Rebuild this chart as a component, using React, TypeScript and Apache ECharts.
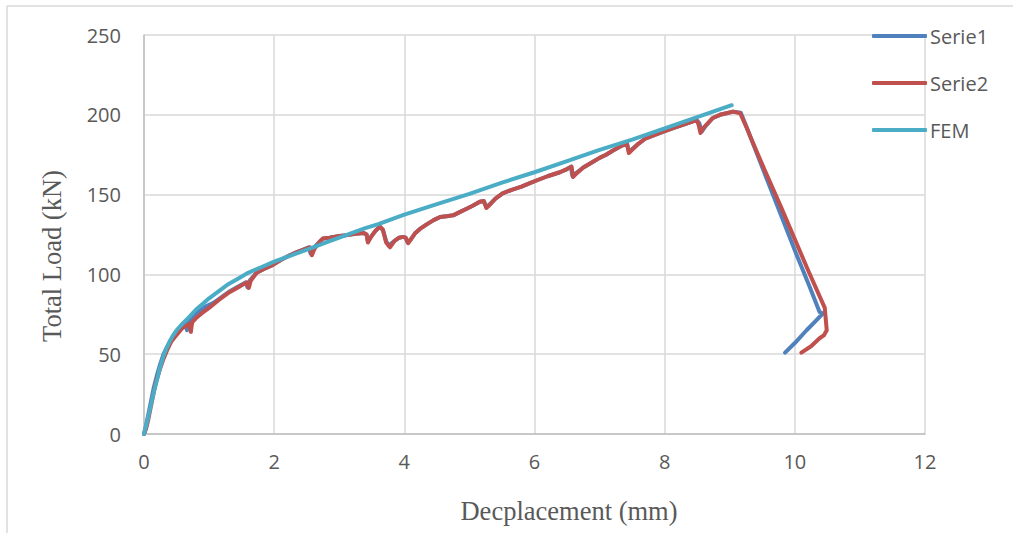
import React, { useEffect, useRef } from "react";
import * as echarts from "echarts";

const xTicks = [0, 2, 4, 6, 8, 10, 12];
const yTicks = [0, 50, 100, 150, 200, 250];

const serie1X = [0, 0.03, 0.06, 0.1, 0.15, 0.2, 0.25, 0.3, 0.36, 0.43, 0.5, 0.58, 0.64, 0.66, 0.69, 0.75, 0.85, 0.95, 1.06, 1.15, 1.25, 1.32, 1.45, 1.56, 1.59, 1.63, 1.73, 1.85, 1.98, 2.1, 2.24, 2.35, 2.45, 2.53, 2.56, 2.6, 2.7, 2.75, 2.85, 3.0, 3.12, 3.25, 3.37, 3.42, 3.44, 3.48, 3.55, 3.62, 3.67, 3.72, 3.76, 3.85, 3.92, 3.98, 4.02, 4.05, 4.1, 4.17, 4.24, 4.35, 4.45, 4.55, 4.65, 4.75, 4.85, 4.95, 5.05, 5.16, 5.22, 5.26, 5.3, 5.4, 5.51, 5.65, 5.8, 5.92, 6.04, 6.2, 6.39, 6.5, 6.56, 6.58, 6.64, 6.75, 6.9, 7.0, 7.1, 7.2, 7.31, 7.42, 7.45, 7.5, 7.6, 7.7, 7.82, 7.95, 8.13, 8.3, 8.49, 8.53, 8.57, 8.62, 8.74, 8.85, 8.95, 9.05, 9.17, 9.3, 9.51, 9.74, 10.03, 10.22, 10.38, 10.43, 10.3, 10.18, 10.0, 9.85];
const serie1Y = [0, 5, 11, 19, 29, 37, 44, 50, 55, 60, 64, 67.5, 69.5, 65, 70, 74, 77, 80, 82, 84.5, 87.5, 89.5, 92.5, 95, 92, 96.5, 101, 103.5, 106, 109, 112, 114, 115.5, 117, 113, 116.5, 120.5, 122.5, 123, 124, 124.6, 125.5, 126, 125, 120.5, 123, 127, 130, 128, 121, 118, 121, 123, 123.5, 123, 120, 122, 126, 128.5, 131.5, 134, 136, 136.5, 137, 139, 141, 143, 145.5, 146, 142.5, 143.5, 147.5, 150.8, 153, 155, 157, 159, 161.5, 164, 166, 167.5, 162, 163.5, 167, 170.6, 173, 175, 177.5, 180, 182, 177, 178.5, 182, 185, 187, 189, 191.6, 194, 196.7, 195, 189.5, 192.5, 198, 200, 201, 202, 201.3, 188, 166, 142, 112, 93, 76.5, 75.5, 70, 65, 57, 51];

const serie2X = [0, 0.03, 0.06, 0.09, 0.13, 0.18, 0.24, 0.29, 0.35, 0.42, 0.5, 0.58, 0.66, 0.7, 0.72, 0.74, 0.81, 0.9, 1.0, 1.06, 1.15, 1.25, 1.32, 1.45, 1.58, 1.61, 1.64, 1.73, 1.85, 1.98, 2.1, 2.24, 2.35, 2.45, 2.55, 2.58, 2.62, 2.7, 2.75, 2.85, 3.0, 3.12, 3.25, 3.37, 3.42, 3.44, 3.48, 3.55, 3.62, 3.67, 3.72, 3.78, 3.85, 3.92, 3.98, 4.02, 4.06, 4.1, 4.17, 4.24, 4.35, 4.45, 4.55, 4.65, 4.75, 4.85, 4.95, 5.05, 5.16, 5.22, 5.26, 5.3, 5.4, 5.51, 5.65, 5.8, 5.92, 6.04, 6.2, 6.39, 6.5, 6.57, 6.59, 6.64, 6.75, 6.9, 7.0, 7.1, 7.2, 7.31, 7.42, 7.45, 7.5, 7.6, 7.7, 7.82, 7.95, 8.13, 8.3, 8.49, 8.52, 8.55, 8.6, 8.74, 8.85, 8.95, 9.05, 9.16, 9.26, 9.32, 9.54, 9.79, 10.01, 10.21, 10.46, 10.49, 10.45, 10.38, 10.25, 10.1];
const serie2Y = [0, 3, 8, 14, 22, 32, 40, 46, 52, 58, 62, 66, 68, 69, 64, 70, 73, 76, 79, 81, 84, 87, 89, 92, 95, 91.5, 96, 101, 103.5, 106, 109, 112, 114, 115.5, 117, 112, 116, 120.5, 122.5, 123, 124, 124.6, 125.5, 126, 125, 120, 123, 127, 130, 128, 120, 117, 121, 123, 123.5, 123, 119.5, 122, 126, 128.5, 131.5, 134, 136, 136.5, 137, 139, 141, 143, 145.5, 146, 141.6, 143, 147.5, 150.8, 153, 155, 157, 159, 161.5, 164, 166, 167.5, 161, 163, 167, 170.6, 173, 175, 177.5, 180, 182, 176, 178, 182, 185, 187, 189, 191.6, 194, 196.7, 194, 188.6, 192, 198, 200, 201, 202, 201, 192, 186, 165, 142, 121, 102, 79, 65, 62, 60, 55, 51];

const femX = [0, 0.05, 0.1, 0.15, 0.2, 0.25, 0.3, 0.35, 0.4, 0.45, 0.5, 0.6, 0.7, 0.8, 0.9, 1.0, 1.15, 1.3, 1.45, 1.6, 1.8, 2.0, 2.2, 2.4, 2.6, 2.8, 3.0, 3.2, 3.4, 3.6, 3.8, 4.0, 4.5, 5.0, 5.5, 6.0, 6.5, 7.0, 7.5, 8.0, 8.5, 9.03];
const femY = [0, 8, 17, 26, 34, 42, 49, 54, 58.5, 62, 65, 69.5, 73.5, 78, 81.5, 85, 89.5, 94, 97.5, 101, 104.5, 108, 111, 114, 117, 120, 123, 126, 129, 131.5, 134.5, 137.5, 144, 150.5, 157.5, 164, 171, 178, 184.5, 191.5, 198.5, 206];

const pairs = (xs: number[], ys: number[]) => xs.map((x, i) => [x, ys[i]]);

export default function App() {
  const ref = useRef<HTMLDivElement>(null);
  useEffect(() => {
    if (!ref.current) return;
    const chart = echarts.init(ref.current, undefined, { renderer: "svg" });
    const tickFont = {
      fontFamily: "'Open Sans', sans-serif",
      fontSize: 20,
      color: "#595959",
    };
    const lineCommon = {
      type: "line" as const,
      showSymbol: false,
      symbol: "none",
      smooth: false,
      z: 2,
    };
    chart.setOption({
      animation: false,
      backgroundColor: "#ffffff",
      grid: { left: 144, right: 88, top: 35, bottom: 99, containLabel: false },
      xAxis: {
        type: "value",
        min: xTicks[0],
        max: xTicks[xTicks.length - 1],
        interval: 2,
        axisLine: { show: true, lineStyle: { color: "#BFBFBF", width: 1.5 } },
        axisTick: { show: false },
        axisLabel: { ...tickFont, margin: 17 },
        splitLine: { show: true, lineStyle: { color: "#D9D9D9", width: 1.5 } },
      },
      yAxis: {
        type: "value",
        min: yTicks[0],
        max: yTicks[yTicks.length - 1],
        interval: 50,
        axisLine: { show: true, lineStyle: { color: "#BFBFBF", width: 1.5 } },
        axisTick: { show: false },
        axisLabel: { ...tickFont, margin: 23 },
        splitLine: { show: true, lineStyle: { color: "#D9D9D9", width: 1.5 } },
      },
      legend: {
        orient: "vertical",
        left: 867,
        top: 21,
        itemWidth: 55,
        itemHeight: 4,
        itemGap: 27,
        icon: "roundRect",
        textStyle: {
          fontFamily: "'Open Sans', sans-serif",
          fontSize: 20,
          color: "#595959",
          padding: [0, 0, 0, -2],
        },
        data: ["Serie1", "Serie2", "FEM"],
      },
      graphic: [
        {
          type: "line",
          shape: { x1: 7, y1: 6, x2: 1013, y2: 6 },
          style: { stroke: "#D9D9D9", lineWidth: 1.5 },
          silent: true,
        },
        {
          type: "line",
          shape: { x1: 7, y1: 6, x2: 7, y2: 533 },
          style: { stroke: "#D9D9D9", lineWidth: 1.5 },
          silent: true,
        },
        {
          type: "text",
          x: 569,
          y: 511,
          style: {
            text: "Decplacement (mm)",
            fontFamily: "'Liberation Serif', 'Times New Roman', serif",
            fontSize: 26.5,
            fill: "#595959",
            textAlign: "center",
            textVerticalAlign: "middle",
          },
        },
        {
          type: "text",
          x: 52,
          y: 256,
          rotation: Math.PI / 2,
          style: {
            text: "Total Load (kN)",
            fontFamily: "'Liberation Serif', 'Times New Roman', serif",
            fontSize: 26.5,
            fill: "#595959",
            textAlign: "center",
            textVerticalAlign: "middle",
          },
        },
      ],
      series: [
        {
          ...lineCommon,
          name: "Serie1",
          data: pairs(serie1X, serie1Y),
          itemStyle: { color: "#4F81BD" },
          lineStyle: { color: "#4F81BD", width: 4, cap: "round", join: "round" },
        },
        {
          ...lineCommon,
          name: "Serie2",
          data: pairs(serie2X, serie2Y),
          itemStyle: { color: "#C0504D" },
          lineStyle: { color: "#C0504D", width: 4, cap: "round", join: "round" },
        },
        {
          ...lineCommon,
          name: "FEM",
          data: pairs(femX, femY),
          itemStyle: { color: "#4BACC6" },
          lineStyle: { color: "#4BACC6", width: 4, cap: "round", join: "round" },
        },
      ],
    });
    return () => chart.dispose();
  }, []);
  return (
    <div
      ref={ref}
      style={{ position: "fixed", left: 0, top: 0, width: 1013, height: 533 }}
    />
  );
}
